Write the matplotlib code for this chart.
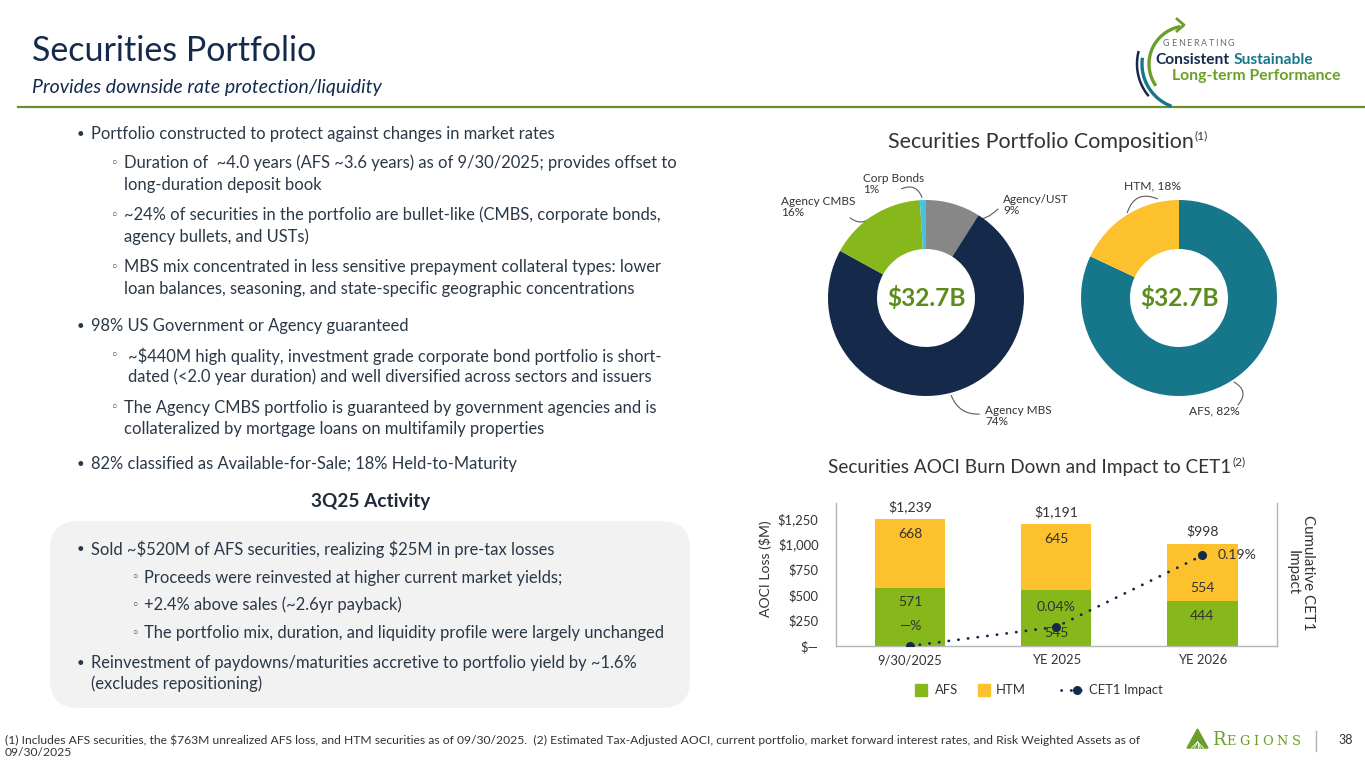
import matplotlib.pyplot as plt
from matplotlib.patches import FancyBboxPatch, Polygon, Rectangle
import numpy as np

# ---- data ----
comp_labels = ['Agency/UST', 'Agency MBS', 'Agency CMBS', 'Corp Bonds']
comp_pct = [9, 74, 16, 1]
class_labels = ['AFS', 'HTM']
class_pct = [82, 18]
portfolio_total = '$32.7B'

periods = ['9/30/2025', 'YE 2025', 'YE 2026']
afs_loss = [571, 545, 444]
htm_loss = [668, 645, 554]
total_loss = [1239, 1191, 998]
cet1_impact = [0.0, 0.04, 0.19]
cet1_labels = ['—%', '0.04%', '0.19%']
y_ticks = [0, 250, 500, 750, 1000, 1250]
y_tick_labels = ['$—', '$250', '$500', '$750', '$1,000', '$1,250']

# colours
NAVY = '#152a4b'
TEXT = '#2b3848'
GREY_T = '#333333'
AFS_C = '#86b71b'
HTM_C = '#fcc12d'
TEAL = '#16778a'
GREY_W = '#878787'
LBLUE = '#45c1e2'
GREEN_C = '#5c8d1b'
GREEN_L = '#6a9f2a'
comp_colors = [GREY_W, NAVY, AFS_C, LBLUE]
class_colors = [TEAL, HTM_C]

W, H = 1365, 768
fig = plt.figure(figsize=(W / 100, H / 100), dpi=100)
fig.patch.set_facecolor('white')
bg = fig.add_axes([0, 0, 1, 1])
bg.set_xlim(0, W)
bg.set_ylim(H, 0)
bg.axis('off')
FAM = ['Lato', 'DejaVu Sans']
R = fig.canvas.get_renderer()


def pt(p):
    # pixel size -> points at 100 dpi
    return p * 0.72


def put(x, y, s, size=16.5, color=TEXT, ha='left', va='center', **kw):
    kw.setdefault('family', FAM)
    return bg.text(x, y, s, fontsize=pt(size), color=color, ha=ha, va=va, **kw)


def spaced(x, y, s, size, color, gap, **kw):
    # letter-spaced text, one glyph at a time
    for ch in s:
        t = put(x, y, ch, size, color, **kw)
        x = t.get_window_extent(R).x1 + gap
    return x


def axes_px(x0, y0, x1, y1):
    return fig.add_axes([x0 / W, 1 - y1 / H, (x1 - x0) / W, (y1 - y0) / H])


# ---- header ----
put(32, 51, 'Securities Portfolio', 34, NAVY)
put(32, 88, 'Provides downside rate protection/liquidity', 19.5, NAVY, style='italic')
bg.plot([18, W], [107, 107], color='#6b8e2e', lw=1.6)


# logo top right
def arc(cx, cy, r, a0, a1, color, lw):
    t = np.radians(np.linspace(a0, a1, 80))
    bg.plot(cx + r * np.cos(t), cy - r * np.sin(t), color=color, lw=lw,
            solid_capstyle='butt')


arc(1187, 64, 38, 100, 215, GREEN_L, 2.4)
arc(1187, 64, 45, 172, 250, TEAL, 2.4)
arc(1187, 64, 50, 165, 220, NAVY, 1.8)
bg.plot([1177, 1184, 1177], [19, 25, 31], color=GREEN_L, lw=2)
spaced(1163, 44, 'GENERATING', 9, '#6d6d6d', 1.6)
t = put(1155, 60, 'Consistent', 15.5, NAVY, weight='bold')
put(t.get_window_extent(R).x1 + 4, 60, 'Sustainable', 15.5, TEAL, weight='bold')
put(1172, 76, 'Long-term Performance', 15.8, GREEN_L, weight='bold')

# ---- left text ----
lines = [
    ('b', 'Portfolio constructed to protect against changes in market rates', 134),
    ('s', 'Duration of  ~4.0 years (AFS ~3.6 years) as of 9/30/2025; provides offset to', 163),
    ('c', 'long-duration deposit book', 185),
    ('s', '~24% of securities in the portfolio are bullet-like (CMBS, corporate bonds,', 215),
    ('c', 'agency bullets, and USTs)', 237),
    ('s', 'MBS mix concentrated in less sensitive prepayment collateral types: lower', 267),
    ('c', 'loan balances, seasoning, and state-specific geographic concentrations', 289),
    ('b', '98% US Government or Agency guaranteed', 326),
    ('S', '~$440M high quality, investment grade corporate bond portfolio is short-', 356),
    ('C', 'dated (<2.0 year duration) and well diversified across sectors and issuers', 377),
    ('s', 'The Agency CMBS portfolio is guaranteed by government agencies and is', 408),
    ('c', 'collateralized by mortgage loans on multifamily properties', 429),
    ('b', '82% classified as Available-for-Sale; 18% Held-to-Maturity', 464),
]
for kind, s, y in lines:
    if kind == 'b':
        put(77, y, '•', 13)
        put(91, y, s)
    elif kind in 'sS':
        put(110, y, '◦', 12.5, family=['DejaVu Sans'])
        put(124 if kind == 's' else 128, y, s)
    else:
        put(124 if kind == 'c' else 128, y, s)

put(371, 502, '3Q25 Activity', 19, '#1f2a3a', ha='center', weight='bold')
bg.add_patch(FancyBboxPatch((50, 521), 640, 187, boxstyle='round,pad=0,rounding_size=28',
                            fc='#f2f2f2', ec='none'))
panel = [
    ('b', 'Sold ~\\$520M of AFS securities, realizing \\$25M in pre-tax losses', 549),
    ('s', 'Proceeds were reinvested at higher current market yields;', 578),
    ('s', '+2.4% above sales (~2.6yr payback)', 605),
    ('s', 'The portfolio mix, duration, and liquidity profile were largely unchanged', 633),
    ('b', 'Reinvestment of paydowns/maturities accretive to portfolio yield by ~1.6%', 663),
    ('c', '(excludes repositioning)', 684),
]
for kind, s, y in panel:
    if kind == 'b':
        put(77, y, '•', 13)
        put(91, y, s)
    elif kind == 's':
        put(131, y, '◦', 12.5, family=['DejaVu Sans'])
        put(144, y, s)
    else:
        put(91, y, s)


# ---- section titles ----
def title_sup(cx, y, main, sup, size):
    t = put(cx, y, main, size, GREY_T, ha='center')
    bb = t.get_window_extent(R)
    put(bb.x1 + 1, y - 6, sup, 12, GREY_T)


title_sup(1041, 142, 'Securities Portfolio Composition', '(1)', 21.5)
title_sup(1030, 468, 'Securities AOCI Burn Down and Impact to CET1', '(2)', 19)


# ---- donuts ----
def donut(cx, cy, vals, colors, r=98):
    ax = axes_px(cx - 1.25 * r, cy - 1.25 * r, cx + 1.25 * r, cy + 1.25 * r)
    ax.pie(vals, colors=colors, startangle=90, counterclock=False,
           wedgeprops=dict(width=0.5, edgecolor='none'))
    ax.set_xlim(-1.25, 1.25)
    ax.set_ylim(-1.25, 1.25)
    ax.set_aspect('equal')
    ax.text(0, 0, portfolio_total, ha='center', va='center', fontsize=pt(24.5),
            color=GREEN_C, weight='bold', family=FAM)
    v = np.array(vals, dtype=float)
    mid = (np.cumsum(v) - v / 2) / v.sum()
    ang = np.radians(90 - mid * 360)
    return [(cx + r * np.cos(a), cy - r * np.sin(a)) for a in ang]


def leader(p0, p1, rad):
    bg.annotate('', xy=p1, xytext=p0,
                arrowprops=dict(arrowstyle='-', color='#5a5a5a', lw=0.8,
                                connectionstyle=f'arc3,rad={rad}'))


edge1 = donut(926, 298, comp_pct, comp_colors)
edge2 = donut(1179, 298, class_pct, class_colors)

lab_pos = {'Agency/UST': (1003, 205), 'Agency MBS': (985, 416),
           'Agency CMBS': (781, 207), 'Corp Bonds': (863, 184)}
lead_end = {'Agency/UST': (1000, 207), 'Agency MBS': (982, 414),
            'Agency CMBS': (848, 216), 'Corp Bonds': (899, 190)}
lead_rad = {'Agency/UST': 0.6, 'Agency MBS': 0.4, 'Agency CMBS': -0.5, 'Corp Bonds': 0.6}
for name, pct, p0 in zip(comp_labels, comp_pct, edge1):
    x, y = lab_pos[name]
    put(x, y, f'{name}\n{pct}%', 11.8, GREY_T, linespacing=1.1)
    leader(p0, lead_end[name], lead_rad[name])

put(1124, 186, f'{class_labels[1]}, {class_pct[1]}%', 12, GREY_T)
leader(edge2[1], (1160, 200), -0.6)
put(1189, 411, f'{class_labels[0]}, {class_pct[0]}%', 12, GREY_T)
leader(edge2[0], (1236, 407), -0.7)

# ---- AOCI bar chart ----
bx = axes_px(836, 503, 1277, 646)
x = np.arange(len(periods))
bw = 0.48
bx.bar(x, afs_loss, bw, color=AFS_C, zorder=2)
bx.bar(x, htm_loss, bw, bottom=afs_loss, color=HTM_C, zorder=2)
bx.set_xlim(-0.507, 2.51)
bx.set_ylim(0, 1400)
bx.set_yticks(y_ticks, y_tick_labels)
bx.set_xticks(x, periods)
bx.tick_params(length=0, labelsize=pt(13), labelcolor=GREY_T)
bx.tick_params(axis='y', pad=12.5)
bx.tick_params(axis='x', pad=6)
for lab in bx.get_xticklabels() + bx.get_yticklabels():
    lab.set_family(FAM)
bx.spines['top'].set_visible(False)
for s in ['left', 'right', 'bottom']:
    bx.spines[s].set_color('#b5b5b5')
    bx.spines[s].set_linewidth(1)

htm_lbl_y = [1096, 1048, 568]
afs_lbl_y = [431, 127, 294]
for xi, a, h, tot, hy, ay in zip(x, afs_loss, htm_loss, total_loss, htm_lbl_y, afs_lbl_y):
    bx.text(xi, hy, f'{h}', ha='center', va='center', fontsize=pt(14), color=GREY_T, family=FAM, zorder=4)
    bx.text(xi, ay, f'{a}', ha='center', va='center', fontsize=pt(14), color=GREY_T, family=FAM, zorder=4)
    bx.text(xi, tot + 128, f'${tot:,}', ha='center', va='center', fontsize=pt(14),
            color=GREY_T, family=FAM)

ax2 = bx.twinx()
ax2.set_ylim(0, 0.30)
ax2.set_yticks([])
for s in ax2.spines.values():
    s.set_visible(False)
ax2.plot(x, cet1_impact, color=NAVY, lw=2.0, ls=(0, (0.1, 3.4)), dash_capstyle='round', zorder=3)
ax2.plot(x, cet1_impact, 'o', color=NAVY, ms=5.5, zorder=4)
for xi, v, lbl in zip(x, cet1_impact, cet1_labels):
    if xi < len(x) - 1:
        ax2.annotate(lbl, (xi, v), xytext=(0, 14.4), textcoords='offset points',
                     ha='center', va='center', fontsize=pt(14), color=GREY_T, family=FAM)
    else:
        ax2.annotate(lbl, (xi, v), xytext=(11, 0), textcoords='offset points',
                     ha='left', va='center', fontsize=pt(14), color=GREY_T, family=FAM)

put(766, 569, 'AOCI Loss ($M)', 14, GREY_T, ha='center', rotation=90)
put(1300, 573, 'Cumulative CET1\nImpact', 15, GREY_T, ha='center', rotation=-90,
    multialignment='center', linespacing=1.1)

# legend
bg.add_patch(Rectangle((915, 684), 12, 12, color=AFS_C))
put(935, 690, 'AFS', 13, GREY_T)
bg.add_patch(Rectangle((978, 684), 12, 12, color=HTM_C))
put(996, 690, 'HTM', 13, GREY_T)
bg.plot([1061, 1083], [690, 690], color=NAVY, lw=2.0, ls=(0, (0.1, 3.4)), dash_capstyle='round')
bg.plot([1077], [690], 'o', color=NAVY, ms=5.5)
put(1089, 690, 'CET1 Impact', 13, GREY_T)

# ---- footer ----
put(5, 746, '(1) Includes AFS securities, the $763M unrealized AFS loss, and HTM securities as of 09/30/2025.  '
    '(2) Estimated Tax-Adjusted AOCI, current portfolio, market forward interest rates, and Risk Weighted Assets as of\n'
    '09/30/2025', 12.1, GREY_T, linespacing=1.15)

tri = Polygon([(1187, 748), (1197.5, 729), (1208, 748)], closed=True, color=GREEN_L)
bg.add_patch(tri)
for dx in [-6, -3, 0, 3, 6]:
    bg.plot([1197.5, 1197.5 + dx], [742, 748], color='white', lw=0.6)
t = put(1212, 740, 'R', 18, GREEN_L, family=['DejaVu Serif'])
spaced(t.get_window_extent(R).x1 + 1, 741.5, 'EGIONS', 13, GREEN_L, 3.6, family=['DejaVu Serif'])
bg.plot([1316, 1316], [731, 751], color='#b0b0b0', lw=1)
put(1338, 740, '38', 12.5, GREY_T)

fig.savefig('out.png', dpi=100, facecolor='white')
